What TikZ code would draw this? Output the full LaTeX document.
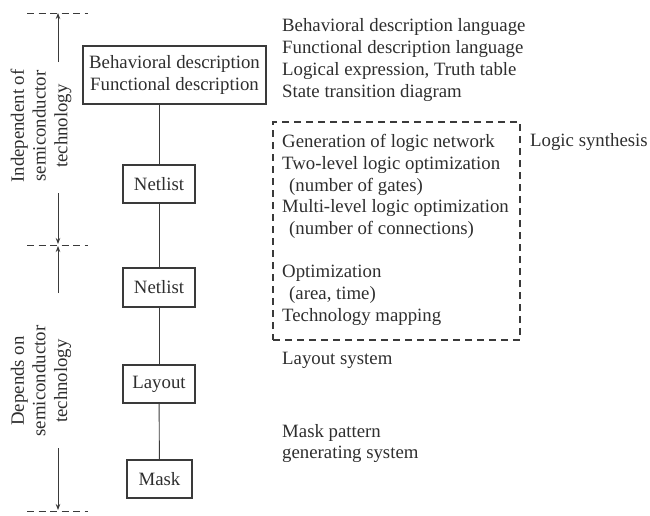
\documentclass[tikz,border=0pt]{standalone}
\usepackage{fontspec}
\setmainfont{Liberation Serif}
\usetikzlibrary{arrows.meta}
\definecolor{ink}{HTML}{2E2E2E}
\definecolor{stroke}{HTML}{3A3A3A}
\begin{document}
\begin{tikzpicture}[x=1pt,y=-1pt,
  every node/.style={font=\fontsize{18.8}{21.7}\selectfont, text=ink},
  box/.style={draw=stroke, line width=1.2pt, inner sep=0pt},
  txt/.style={anchor=west, align=left, inner sep=0pt},
  link/.style={draw=stroke, line width=0.9pt},
  arr/.style={draw=stroke, line width=0.9pt, -{Stealth[length=6pt,width=4.5pt]}},
  sep/.style={draw=stroke, line width=1pt, dash pattern=on 7pt off 4.5pt},
  dbox/.style={draw=stroke, line width=1.2pt, dash pattern=on 7pt off 5pt, inner sep=0pt}]
\useasboundingbox (0,0) rectangle (650,515);

% main chain
\node[box, minimum width=183pt, minimum height=58pt, align=center] (beh) at (174.5,75) {Behavioral description\\Functional description};
\node[box, minimum width=72pt, minimum height=38pt] (n1) at (159,184) {Netlist};
\node[box, minimum width=72pt, minimum height=39pt] (n2) at (159,287.5) {Netlist};
\node[box, minimum width=72pt, minimum height=38pt] (lay) at (159,384) {Layout};
\node[box, minimum width=65pt, minimum height=38pt] (mask) at (159.5,479) {Mask};
\draw[link] (beh.south -| n1.north) -- (n1.north);
\draw[link] (n1) -- (n2);
\draw[link] (n2) -- (lay);
\draw[link] (lay) -- (mask);

% left scale
\coordinate (s1l) at (27,13);  \coordinate (s1r) at (88,13);
\coordinate (s2l) at (27,245); \coordinate (s2r) at (88,245);
\coordinate (s3l) at (27,511); \coordinate (s3r) at (88,511);
\draw[sep] (s1l) -- (s1r);
\draw[sep] (s2l) -- (s2r);
\draw[sep] (s3l) -- (s3r);
\coordinate (a1s) at (58,62);  \coordinate (a1e) at (58,13);
\coordinate (a2s) at (58,193); \coordinate (a2e) at (58,244);
\coordinate (a3s) at (58,293); \coordinate (a3e) at (58,246);
\coordinate (a4s) at (58,448); \coordinate (a4e) at (58,510);
\draw[arr] (a1s) -- (a1e);
\draw[arr] (a2s) -- (a2e);
\draw[arr] (a3s) -- (a3e);
\draw[arr] (a4s) -- (a4e);
\node[rotate=90, align=center, inner sep=0pt] (ind) at (41,126) {Independent of\\semiconductor\\technology};
\node[rotate=90, align=center, inner sep=0pt] (dep) at (41,381) {Depends on\\semiconductor\\technology};

% right column
\node[txt] (lang) at (282,60) {Behavioral description language\\Functional description language\\Logical expression, Truth table\\State transition diagram};
\node[dbox, minimum width=247pt, minimum height=218pt] (syn) at (396.5,231) {};
\node[txt] (syntxt) at (282,230) {Generation of logic network\\Two-level logic optimization\\\hspace{7pt}(number of gates)\\Multi-level logic optimization\\\hspace{7pt}(number of connections)\\\mbox{}\\Optimization\\\hspace{7pt}(area, time)\\Technology mapping};
\node[txt] (ls) at (530,142) {Logic synthesis};
\node[txt] (lsys) at (282,360) {Layout system};
\node[txt] (msys) at (282,443.5) {Mask pattern\\generating system};
\end{tikzpicture}
\end{document}
